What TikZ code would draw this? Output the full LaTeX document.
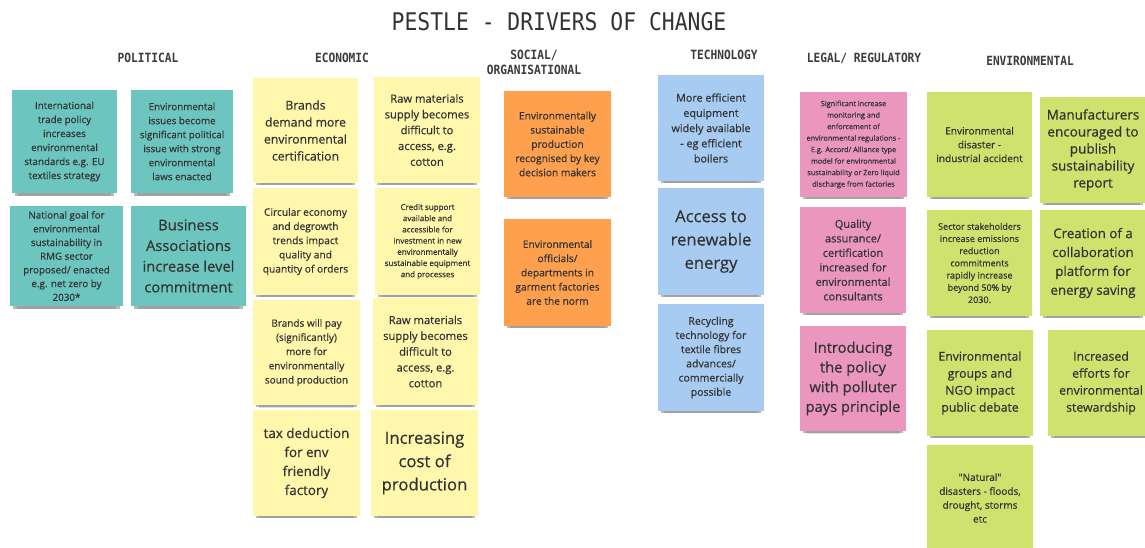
\documentclass[tikz,border=0pt]{standalone}
\usepackage{fontspec}
\usetikzlibrary{shadows}
\newfontfamily\padfont[FakeBold=0.5]{Open Sans}
\newfontfamily\headfont[FakeStretch=0.88]{DejaVu Sans Mono}
\definecolor{teal300}{HTML}{6CC6BF}
\definecolor{yel100} {HTML}{FFF7AC}
\definecolor{orng400}{HTML}{FFA04E}
\definecolor{blue300}{HTML}{A7CBF1}
\definecolor{pink300}{HTML}{EA96BF}
\definecolor{lime300}{HTML}{CFE26E}
\definecolor{ink800} {HTML}{333333}
\definecolor{ink700} {HTML}{3C3C3C}
\tikzset{
  pad/.style  ={minimum width=106pt, minimum height=106pt, inner sep=2pt,
                align=center, text=ink800, font=\padfont,
                drop shadow={shadow xshift=0pt, shadow yshift=-6pt,
                             shadow scale=0.94, opacity=0.28, fill=black},
                drop shadow={shadow xshift=0pt, shadow yshift=-10pt,
                             shadow scale=0.88, opacity=0.12, fill=black}},
  padp/.style ={pad, fill=teal300},
  pade/.style ={pad, fill=yel100},
  pads/.style ={pad, fill=orng400},
  padt/.style ={pad, fill=blue300},
  padl/.style ={pad, fill=pink300},
  padv/.style ={pad, fill=lime300},
  fs/.style 2 args={font=\padfont\fontsize{#1}{#2}\selectfont},
  head/.style ={font=\headfont\bfseries\fontsize{12.7}{15}\selectfont,
                text=ink700, align=center, inner sep=0pt},
  ttl/.style  ={font=\headfont\fontsize{24.3}{28}\selectfont,
                text=ink800, inner sep=0pt}
}
\begin{document}
\begin{tikzpicture}[x=1pt, y=-1pt]
\fill[white] (0,0) rectangle (1145,548);
\useasboundingbox (0,0) rectangle (1145,548);

\node[ttl] (title) at (559,22) {PESTLE - DRIVERS OF CHANGE};

\node[head] (hpol) at (148,58) {POLITICAL};
\node[head] (heco) at (342,58) {ECONOMIC};
\node[head] (hsoc) at (534,62) {SOCIAL/\\ORGANISATIONAL};
\node[head] (htec) at (724,55) {TECHNOLOGY};
\node[head] (hleg) at (864,58) {LEGAL/ REGULATORY};
\node[head] (henv) at (1030,61) {ENVIRONMENTAL};

% political
\node[padp, fs={9.8}{14}, minimum width=105pt, minimum height=103pt] (pol1) at (64.5,141.5)
  {International\\trade policy\\increases\\environmental\\standards e.g. EU\\textiles strategy};
\node[padp, fs={9.8}{14}, minimum width=102pt, minimum height=103pt] (pol2) at (182,141.5)
  {Environmental\\issues become\\significant political\\issue with strong\\environmental\\laws enacted};
\node[padp, fs={9.8}{13.7}, minimum width=113pt, minimum height=100pt] (pol3) at (66.5,256)
  {National goal for\\environmental\\sustainability in\\RMG sector\\proposed/ enacted\\e.g. net zero by\\2030*};
\node[padp, fs={14.7}{20.7}, minimum width=115pt, minimum height=100pt] (pol4) at (188.5,256)
  {Business\\Associations\\increase level\\commitment};

% economic
\node[pade, fs={12.2}{17}, minimum width=105pt, minimum height=105pt] (eco1) at (305.5,130.5)
  {Brands\\demand more\\environmental\\certification};
\node[pade, fs={11.2}{15.8}] (eco2) at (427,130)
  {Raw materials\\supply becomes\\difficult to\\access, e.g.\\cotton};
\node[pade, fs={10.2}{14.2}, minimum width=105pt, minimum height=107pt] (eco3) at (305.5,241.5)
  {Circular economy\\and degrowth\\trends impact\\quality and\\quantity of orders};
\node[pade, fs={8}{11.2}, minimum width=105pt, minimum height=107pt] (eco4) at (427.5,241.5)
  {Credit support\\available and\\accessible for\\investment in new\\environmentally\\sustainable equipment\\and processes};
\node[pade, fs={10}{14.2}, minimum width=107pt, minimum height=105pt] (eco5) at (306.5,352.5)
  {Brands will pay\\(significantly)\\more for\\environmentally\\sound production};
\node[pade, fs={11.2}{15.8}, minimum width=105pt, minimum height=107pt] (eco6) at (425.5,351.5)
  {Raw materials\\supply becomes\\difficult to\\access, e.g.\\cotton};
\node[pade, fs={13.4}{19}, minimum width=107pt] (eco7) at (306.5,463)
  {tax deduction\\for env\\friendly\\factory};
\node[pade, fs={16.7}{23.3}, minimum width=107pt] (eco8) at (424.5,463)
  {Increasing\\cost of\\production};

% social / organisational
\node[pads, fs={10.2}{14.2}, minimum width=107pt] (soc1) at (557.5,144)
  {Environmentally\\sustainable\\production\\recognised by key\\decision makers};
\node[pads, fs={10.2}{14.2}, minimum width=107pt, minimum height=107pt] (soc2) at (557.5,272.5)
  {Environmental\\officials/\\departments in\\garment factories\\are the norm};

% technology
\node[padt, fs={10.8}{15.2}] (tec1) at (711,128)
  {More efficient\\equipment\\widely available\\- eg efficient\\boilers};
\node[padt, fs={16.6}{23.3}, minimum height=107pt] (tec2) at (711,241.5)
  {Access to\\renewable\\energy};
\node[padt, fs={10.5}{14.2}, minimum height=107pt] (tec3) at (711,357.5)
  {Recycling\\technology for\\textile fibres\\advances/\\commercially\\possible};

% legal / regulatory
\node[padl, fs={7.3}{11.5}, minimum width=107pt, minimum height=105pt] (leg1) at (853.5,144.5)
  {Significant increase\\monitoring and\\enforcement of\\environmental regulations -\\E.g. Accord/ Alliance type\\model for environmental\\sustainability or Zero liquid\\discharge from factories};
\node[padl, fs={11}{14.5}] (leg2) at (853,260)
  {Quality\\assurance/\\certification\\increased for\\environmental\\consultants};
\node[padl, fs={14.7}{19.7}, minimum height=105pt] (leg3) at (853,378.5)
  {Introducing\\the policy\\with polluter\\pays principle};

% environmental
\node[padv, fs={10.1}{13.8}, minimum width=105pt, minimum height=105pt] (env1) at (979.5,144.5)
  {Environmental\\disaster -\\industrial accident};
\node[padv, fs={13.5}{17}] (env2) at (1093,150)
  {Manufacturers\\encouraged to\\publish\\sustainability\\report};
\node[padv, fs={9}{12.2}, minimum width=105pt] (env3) at (979.5,263)
  {Sector stakeholders\\increase emissions\\reduction\\commitments\\rapidly increase\\beyond 50\% by\\2030.};
\node[padv, fs={13.3}{18.9}] (env4) at (1093,263)
  {Creation of a\\collaboration\\platform for\\energy saving};
\node[padv, fs={12.2}{17}] (env5) at (980,383)
  {Environmental\\groups and\\NGO impact\\public debate};
\node[padv, fs={12.3}{17}] (env6) at (1101,383)
  {Increased\\efforts for\\environmental\\stewardship};
\node[padv, fs={10}{13.9}] (env7) at (980,498)
  {"Natural"\\disasters - floods,\\drought, storms\\etc};
\end{tikzpicture}
\end{document}
